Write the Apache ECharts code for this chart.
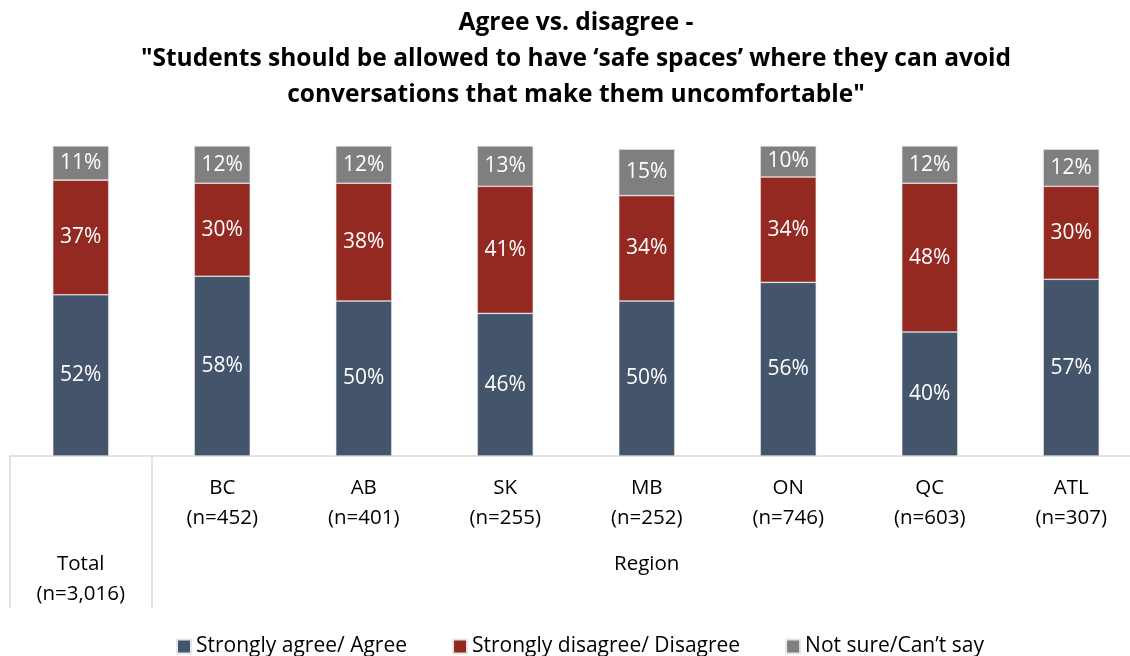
<!DOCTYPE html>
<html>
<head>
<meta charset="utf-8">
<script src="https://cdn.jsdelivr.net/npm/echarts@6/dist/echarts.min.js"></script>
<style>
  html, body { margin: 0; padding: 0; background: #fff; }
  #chart { width: 1130px; height: 656px; }
</style>
</head>
<body>
<div id="chart"></div>
<script>
// Survey results by region (percent of respondents)
const categories = ['Total', 'BC', 'AB', 'SK', 'MB', 'ON', 'QC', 'ATL'];
const sampleSizes = ['3,016', '452', '401', '255', '252', '746', '603', '307'];
const agree = [52, 58, 50, 46, 50, 56, 40, 57];
const disagree = [37, 30, 38, 41, 34, 34, 48, 30];
const notSure = [11, 12, 12, 13, 15, 10, 12, 12];
const seriesNames = ['Strongly agree/ Agree', 'Strongly disagree/ Disagree', 'Not sure/Can\u2019t say'];
const groupLabels = { Total: 'Total', MB: 'Region' };

const FONT = '"Open Sans", "Noto Sans", sans-serif';
const COLORS = ['#44546a', '#932921', '#7f7f7f'];

const chart = echarts.init(document.getElementById('chart'));

function barSeries(name, data, color) {
  return {
    name: name,
    type: 'bar',
    stack: 'all',
    data: data,
    barWidth: 56,
    itemStyle: { color: color, borderColor: '#e6e6e6', borderWidth: 0.6 },
    label: {
      show: true,
      position: 'inside',
      formatter: '{c}%',
      color: '#fff',
      fontFamily: FONT,
      fontSize: 21
    }
  };
}

chart.setOption({
  animation: false,
  textStyle: { fontFamily: FONT },
  title: {
    text: 'Agree vs. disagree -\n"Students should be allowed to have \u2018safe spaces\u2019 where they can avoid\nconversations that make them uncomfortable"',
    left: 576,
    top: 5,
    padding: 0,
    textAlign: 'center',
    textStyle: {
      fontFamily: FONT,
      fontWeight: 'bold',
      fontSize: 24.5,
      lineHeight: 36,
      color: '#000'
    }
  },
  legend: {
    left: 176,
    bottom: -1,
    padding: 0,
    itemWidth: 14,
    itemHeight: 14,
    itemGap: 45,
    icon: 'rect',
    textStyle: { fontFamily: FONT, fontSize: 21, color: '#000' },
    data: seriesNames
  },
  grid: {
    left: 10,
    width: 1132,
    top: 146,
    bottom: 200,
    containLabel: false,
    outerBoundsMode: 'none'
  },
  xAxis: [
    {
      type: 'category',
      data: categories,
      axisLine: { lineStyle: { color: '#d9d9d9', width: 1.5 } },
      axisTick: {
        show: true,
        length: 152,
        interval: function (i) { return i <= 1; },
        lineStyle: { color: '#d9d9d9', width: 1.5 }
      },
      axisLabel: {
        interval: 0,
        margin: 17,
        verticalAlign: 'top',
        lineHeight: 30,
        fontSize: 20.5,
        color: '#000',
        fontFamily: FONT,
        formatter: function (v, i) {
          return v === 'Total' ? '' : v + '\n(n=' + sampleSizes[i] + ')';
        }
      }
    },
    {
      type: 'category',
      data: categories,
      position: 'bottom',
      offset: 76,
      axisLine: { show: false },
      axisTick: { show: false },
      axisLabel: {
        interval: 0,
        margin: 17,
        verticalAlign: 'top',
        lineHeight: 30,
        fontSize: 20.5,
        color: '#000',
        fontFamily: FONT,
        formatter: function (v, i) {
          if (v === 'Total') return 'Total\n(n=' + sampleSizes[i] + ')';
          return groupLabels[v] || '';
        }
      }
    }
  ],
  yAxis: { type: 'value', min: 0, max: 100, show: false },
  series: [
    barSeries(seriesNames[0], agree, COLORS[0]),
    barSeries(seriesNames[1], disagree, COLORS[1]),
    barSeries(seriesNames[2], notSure, COLORS[2])
  ]
});
</script>
</body>
</html>
